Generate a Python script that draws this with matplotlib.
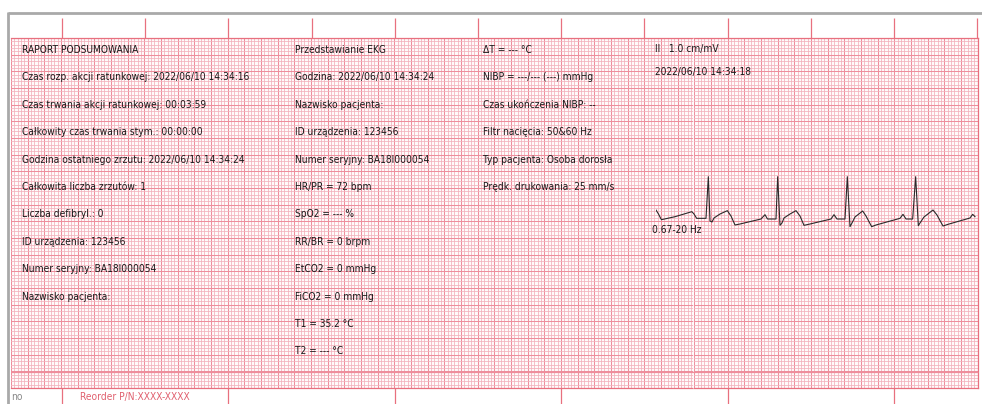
import numpy as np
import matplotlib
matplotlib.use("Agg")
import matplotlib.pyplot as plt
from matplotlib import font_manager as fm
from matplotlib.ticker import MultipleLocator

W, H = 982, 404
PX_MM = 83.33 / 25.0          # paper scale: 25 mm = one second
INK = "#1a1a1a"
MINOR = "#f3b2bc"
MAJOR = "#ee8e9c"
EDGE = "#e8707f"

# the printout uses a condensed sans; take the narrowest one installed
_ttf = fm.fontManager.ttflist
if any(f.name == "Liberation Sans Narrow" for f in _ttf):
    FONT = dict(family="Liberation Sans Narrow")
    SIZE = 8.2
elif any(f.name == "DejaVu Sans" and "condensed" in str(f.stretch) for f in _ttf):
    FONT = dict(family="DejaVu Sans", fontstretch="condensed")
    SIZE = 7.3
else:
    FONT = dict(family="Roboto")
    SIZE = 7.5

COL1 = ["RAPORT PODSUMOWANIA",
        "Czas rozp. akcji ratunkowej: 2022/06/10 14:34:16",
        "Czas trwania akcji ratunkowej: 00:03:59",
        "Całkowity czas trwania stym.: 00:00:00",
        "Godzina ostatniego zrzutu: 2022/06/10 14:34:24",
        "Całkowita liczba zrzutów: 1",
        "Liczba defibryl.: 0",
        "ID urządzenia: 123456",
        "Numer seryjny: BA18I000054",
        "Nazwisko pacjenta:"]
COL2 = ["Przedstawianie EKG",
        "Godzina: 2022/06/10 14:34:24",
        "Nazwisko pacjenta:",
        "ID urządzenia: 123456",
        "Numer seryjny: BA18I000054",
        "HR/PR = 72 bpm",
        "SpO2 = --- %",
        "RR/BR = 0 brpm",
        "EtCO2 = 0 mmHg",
        "FiCO2 = 0 mmHg",
        "T1 = 35.2 °C",
        "T2 = --- °C"]
COL3 = ["ΔT = --- °C",
        "NIBP = ---/--- (---) mmHg",
        "Czas ukończenia NIBP: --",
        "Filtr nacięcia: 50&60 Hz",
        "Typ pacjenta: Osoba dorosła",
        "Prędk. drukowania: 25 mm/s"]
LEAD = "II   1.0 cm/mV"
LEAD_TIME = "2022/06/10 14:34:18"
FILTER = "0.67-20 Hz"

# lead II strip: time (s) and amplitude (mV)
ECG_T = [0.00, 0.03, 0.056, 0.066, 0.23, 0.43, 0.456, 0.488, 0.60, 0.628, 0.648,
         0.672, 0.696, 0.768, 0.856, 0.90, 0.948, 1.008, 1.26, 1.308, 1.338,
         1.44, 1.46, 1.488, 1.512, 1.536, 1.608, 1.68, 1.728, 1.776, 1.848,
         2.10, 2.136, 2.172, 2.268, 2.296, 2.328, 2.352, 2.388, 2.48, 2.52,
         2.588, 2.64, 2.928, 2.964, 3.00, 3.08, 3.116, 3.148, 3.168, 3.216,
         3.324, 3.372, 3.444, 3.504, 3.768, 3.80, 3.828]
ECG_MV = [0.27, 0.15, 0.02, -0.02, 0.07, 0.22, 0.15, 0.02, 0.02, 1.27, -0.06,
          -0.09, 0.03, 0.15, 0.25, 0.09, -0.18, -0.15, 0.00, 0.13, 0.00,
          0.00, 1.27, -0.19, -0.12, 0.03, 0.15, 0.25, 0.09, -0.19, -0.15,
          0.00, 0.13, 0.00, 0.00, 1.27, -0.23, -0.12, 0.06, 0.24, 0.09,
          -0.23, -0.18, 0.02, 0.14, 0.00, 0.00, 1.27, -0.20, -0.12, 0.06,
          0.27, 0.12, -0.21, -0.16, 0.03, 0.14, 0.07]


def frac(x0, y0, x1, y1):
    """pixel box (top-left origin) -> figure fraction rect"""
    return [x0 / W, 1 - y1 / H, (x1 - x0) / W, (y1 - y0) / H]


fig = plt.figure(figsize=(W / 100, H / 100), dpi=100)
fig.patch.set_facecolor("white")

# --- grid paper, in mm -----------------------------------------------------
gx0, gy0, gx1, gy1 = 11, 38, 978, 388
paper = fig.add_axes(frac(gx0, gy0, gx1, gy1))
paper.set_facecolor("#fffafa")
paper.set_xlim(0, (gx1 - gx0) / PX_MM)
paper.set_ylim(0, (gy1 - gy0) / PX_MM)
paper.xaxis.set_major_locator(MultipleLocator(5))
paper.xaxis.set_minor_locator(MultipleLocator(1))
paper.yaxis.set_major_locator(MultipleLocator(5))
paper.yaxis.set_minor_locator(MultipleLocator(1))
paper.grid(which="minor", color=MINOR, linewidth=0.55)
paper.grid(which="major", color=MAJOR, linewidth=0.75)
paper.tick_params(which="both", length=0, labelbottom=False, labelleft=False)
paper.set_axisbelow(True)
for sp in paper.spines.values():
    sp.set_color(EDGE)
    sp.set_linewidth(0.9)
paper.spines["left"].set_visible(False)

# --- page furniture in pixels ------------------------------------------------
page = fig.add_axes([0, 0, 1, 1], facecolor="none")
page.set_xlim(0, W)
page.set_ylim(H, 0)
page.axis("off")
page.plot([8.5, 8.5], [12, H], color="#a9a9a9", lw=2.0, solid_capstyle="butt")
page.plot([8, W], [13, 13], color="#a9a9a9", lw=2.0, solid_capstyle="butt")
page.vlines(np.arange(62, 980, 83.2), 18, gy0, color=EDGE, lw=0.9)
page.vlines(np.arange(62, 980, 166.4), gy1, H, color=EDGE, lw=0.9)
page.vlines([693.5], gy0, gy1, color="white", lw=0.8, alpha=0.8)
page.hlines([371.5], gx0, gx1, color=MAJOR, lw=0.9)

step = 27.4
for x0, col in [(22, COL1), (295, COL2), (483, COL3)]:
    for i, s in enumerate(col):
        page.text(x0, 50 + i * step, s, color=INK, fontsize=SIZE, va="center", **FONT)
page.text(655, 49, LEAD, color=INK, fontsize=SIZE, va="center", **FONT)
page.text(655, 72, LEAD_TIME, color=INK, fontsize=SIZE, va="center", **FONT)
page.text(652, 230, FILTER, color=INK, fontsize=SIZE, va="center", **FONT)
page.text(80, 392, "Reorder P/N:XXXX-XXXX", color="#e0606e", fontsize=SIZE,
          va="top", **FONT)
page.text(11, 392, "no", color="#888888", fontsize=SIZE, va="top", **FONT)

# --- ECG strip: 25 mm/s, 10 mm/mV --------------------------------------------
ex0, ey0, ex1, ey1, base = 656, 150, W, 250, 219
ecg = fig.add_axes(frac(ex0, ey0, ex1, ey1), facecolor="none")
ecg.set_xlim(0, (ex1 - ex0) / (25 * PX_MM))
ecg.set_ylim(-(ey1 - base) / (10 * PX_MM), (base - ey0) / (10 * PX_MM))
ecg.axis("off")
ecg.plot(ECG_T, ECG_MV, color="#2a2a2a", lw=0.8)

fig.savefig("out.png", dpi=100, facecolor="white")
